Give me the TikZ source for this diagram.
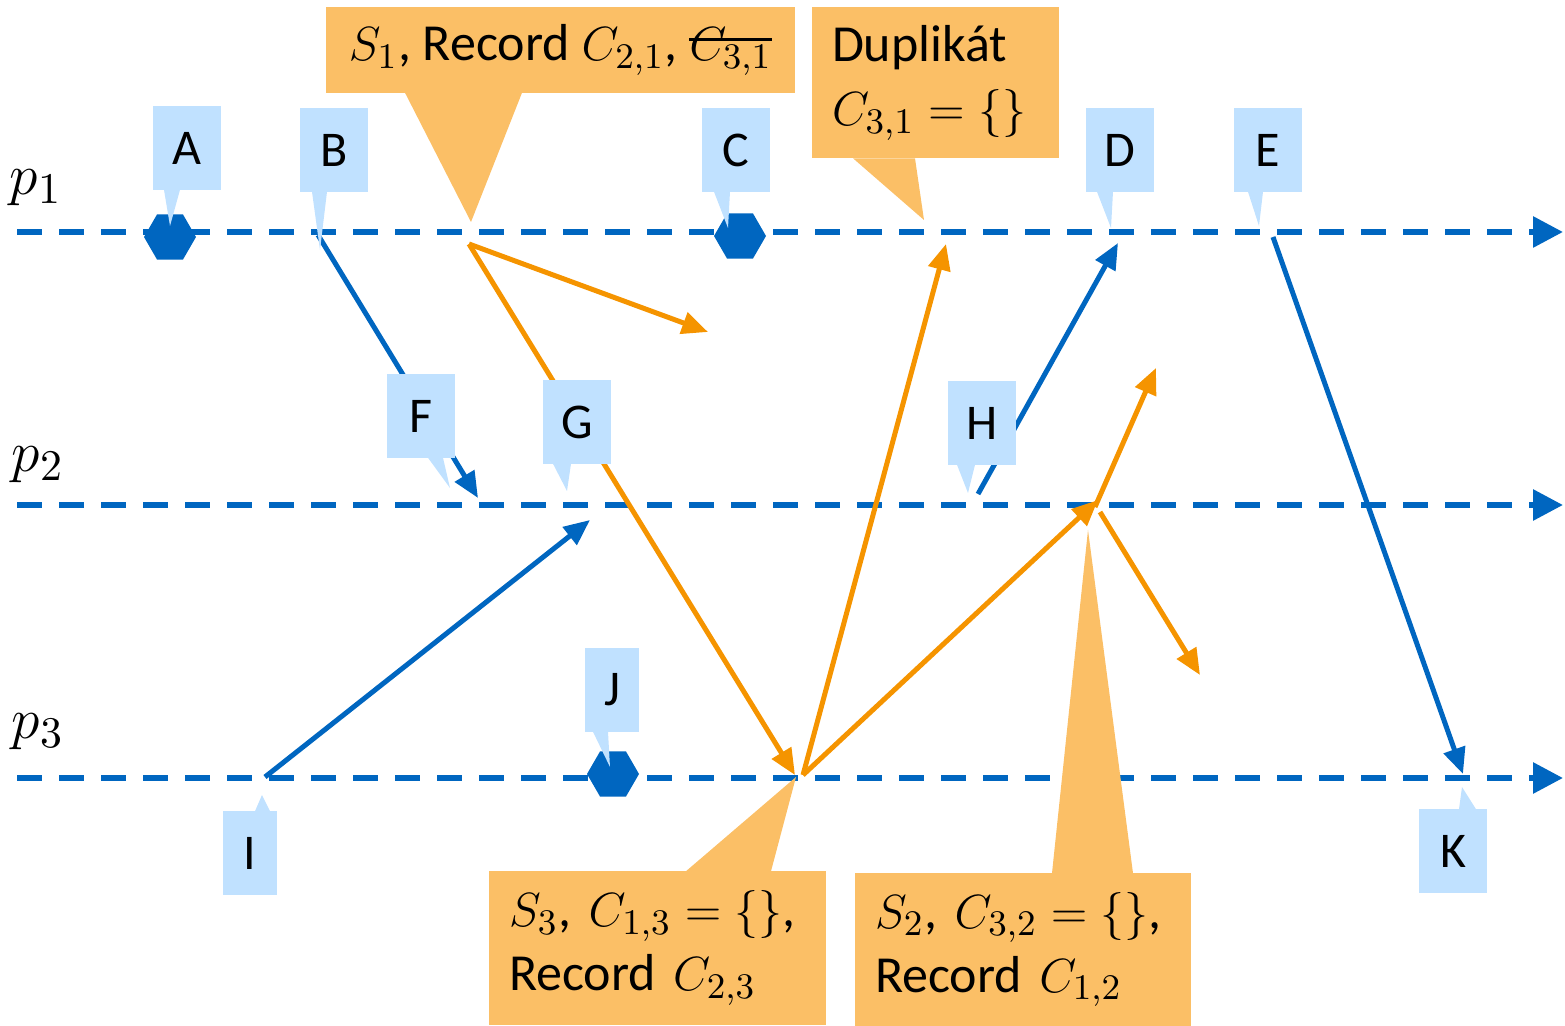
\documentclass[tikz,border=0pt]{standalone}
\usepackage{fontspec}
\setmainfont{Carlito}
\usetikzlibrary{arrows.meta,shapes.geometric,calc}
\definecolor{lineblue}{RGB}{0,102,192}
\definecolor{lblblue}{RGB}{192,225,255}
\definecolor{notefill}{RGB}{251,191,102}
\definecolor{lineorange}{RGB}{245,148,0}
\newcommand{\crossedout}[1]{\sbox0{#1}\rlap{\rule[0.8ex]{\wd0}{0.7pt}}\usebox0}

\begin{document}
\begin{tikzpicture}[
    x=0.25pt, y=-0.25pt,
    proc/.style={draw=lineblue, line width=1.5pt, dash pattern=on 6.25pt off 4.25pt, -{Triangle[length=7.5pt,width=7.5pt]}},
    msgblue/.style={draw=lineblue, line width=1.25pt, -{Triangle[length=6.5pt,width=5.5pt]}},
    msgorange/.style={draw=lineorange, line width=1.25pt, -{Triangle[length=6.5pt,width=5.5pt]}},
    event/.style={regular polygon, regular polygon sides=6, fill=lineblue, minimum size=13pt, inner sep=0pt},
    lbl/.style={fill=lblblue, minimum width=17pt, minimum height=21pt, inner sep=0pt, font=\fontsize{12.5}{15}\selectfont},
    note/.style={fill=notefill, inner xsep=5pt, inner ysep=0pt, align=left, font=\fontsize{13}{16}\selectfont},
    plabel/.style={font=\fontsize{15.5}{18}\selectfont}
]
\useasboundingbox (0,0) rectangle (1565,1026);

% Processes
\coordinate (p1start) at (17,232);  \coordinate (p1end) at (1563,232);
\coordinate (p2start) at (17,505);  \coordinate (p2end) at (1563,505);
\coordinate (p3start) at (17,778);  \coordinate (p3end) at (1563,778);
\node[plabel] (p1) at (36,188) {$p_1$};
\node[plabel] (p2) at (38,465) {$p_2$};
\node[plabel] (p3) at (38,732) {$p_3$};
\draw[proc] (p1start) -- (p1end);
\draw[proc] (p2start) -- (p2end);
\draw[proc] (p3start) -- (p3end);

% Message end points
\coordinate (bsend) at (318,235);   \coordinate (frecv) at (478,498);
\coordinate (isend) at (265,777);   \coordinate (grecv) at (590,520);
\coordinate (hsend) at (978,494);   \coordinate (drecv) at (1118,243);
\coordinate (esend) at (1273,237);  \coordinate (krecv) at (1463,774);
\coordinate (s1send) at (469,244);  \coordinate (s1lost) at (708,332);
\coordinate (s3recv) at (795,775);  \coordinate (s3send) at (803,775);
\coordinate (duprecv) at (946,244); \coordinate (s2recv) at (1098,500);
\coordinate (s2send) at (1095,507); \coordinate (s2up) at (1156,368);
\coordinate (s2out) at (1100,512);  \coordinate (s2down) at (1200,675);

% Application messages
\draw[msgblue] (bsend) -- (frecv);
\draw[msgblue] (isend) -- (grecv);
\draw[msgblue] (hsend) -- (drecv);
\draw[msgblue] (esend) -- (krecv);

% Markers
\draw[msgorange] (s1send) -- (s1lost);
\draw[msgorange] (s1send) -- (s3recv);
\draw[msgorange] (s3send) -- (duprecv);
\draw[msgorange] (s3send) -- (s2recv);
\draw[msgorange] (s2send) -- (s2up);
\draw[msgorange] (s2out) -- (s2down);

% Local events
\node[event] (ea) at (170,237) {};
\node[event] (ec) at (740,236) {};
\node[event] (ej) at (613,774) {};

% Event labels
\coordinate (tA) at (170,226);  \coordinate (tB) at (320,250);
\coordinate (tC) at (728,228);  \coordinate (tD) at (1111,228);
\coordinate (tE) at (1259,226); \coordinate (tF) at (450,488);
\coordinate (tG) at (567,491);  \coordinate (tH) at (968,493);
\coordinate (tI) at (262,795);  \coordinate (tJ) at (610,767);
\coordinate (tK) at (1462,787);
\node[lbl] (A) at (187,148) {A};
\node[lbl] (B) at (334,150) {B};
\node[lbl] (C) at (736,150) {C};
\node[lbl] (D) at (1120,150) {D};
\node[lbl] (E) at (1268,150) {E};
\node[lbl] (F) at (421,416) {F};
\node[lbl] (G) at (577,422) {G};
\node[lbl] (H) at (982,423) {H};
\node[lbl, minimum width=13.5pt] (I) at (250,853) {I};
\node[lbl, minimum width=13.5pt] (J) at (612,690) {J};
\node[lbl] (K) at (1453,851) {K};
\fill[lblblue] ($(A.south)+(-23,-1)$) -- (tA) -- ($(A.south)+(-7,-1)$) -- cycle;
\fill[lblblue] ($(B.south)+(-22,-1)$) -- (tB) -- ($(B.south)+(-7,-1)$) -- cycle;
\fill[lblblue] ($(C.south)+(-22,-1)$) -- (tC) -- ($(C.south)+(-6,-1)$) -- cycle;
\fill[lblblue] ($(D.south)+(-23,-1)$) -- (tD) -- ($(D.south)+(-7,-1)$) -- cycle;
\fill[lblblue] ($(E.south)+(-20,-1)$) -- (tE) -- ($(E.south)+(-5,-1)$) -- cycle;
\fill[lblblue] ($(F.south)+(7,-1)$) -- (tF) -- ($(F.south)+(22,-1)$) -- cycle;
\fill[lblblue] ($(G.south)+(-24,-1)$) -- (tG) -- ($(G.south)+(-6,-1)$) -- cycle;
\fill[lblblue] ($(H.south)+(-25,-1)$) -- (tH) -- ($(H.south)+(-7,-1)$) -- cycle;
\fill[lblblue] ($(I.north)+(5,1)$) -- (tI) -- ($(I.north)+(20,1)$) -- cycle;
\fill[lblblue] ($(J.south)+(-19,-1)$) -- (tJ) -- ($(J.south)+(-4,-1)$) -- cycle;
\fill[lblblue] ($(K.north)+(6,1)$) -- (tK) -- ($(K.north)+(23,1)$) -- cycle;

% Snapshot notes
\coordinate (ts1) at (471,222);
\coordinate (tdup) at (924,220);
\coordinate (ts3) at (796,777);
\coordinate (ts2) at (1088,530);
\node[note, align=center, minimum width=117.25pt, minimum height=21.5pt] (s1) at (560.5,50)
    {$S_1$, Record $C_{2,1}$, \crossedout{$C_{3,1}$}};
\node[note, text width=51.75pt, minimum height=37.75pt] (dup) at (935.5,83)
    {Duplikát\\$C_{3,1}=\{\}$};
\node[note, text width=74.25pt, minimum height=38.5pt] (s3) at (657.5,948)
    {$S_3$, $C_{1,3}=\{\}$,\\Record $C_{2,3}$};
\node[note, text width=74pt, minimum height=38.25pt] (s2) at (1023,949.5)
    {$S_2$, $C_{3,2}=\{\}$,\\Record $C_{1,2}$};
\fill[notefill] ($(s1.south)+(-155.5,-1)$) -- (ts1) -- ($(s1.south)+(-38.5,-1)$) -- cycle;
\fill[notefill] ($(dup.south)+(-82.5,-1)$) -- (tdup) -- ($(dup.south)+(-20.5,-1)$) -- cycle;
\fill[notefill] ($(s3.north)+(28.5,1)$) -- (ts3) -- ($(s3.north)+(113.5,1)$) -- cycle;
\fill[notefill] ($(s2.north)+(29,1)$) -- (ts2) -- ($(s2.north)+(110,1)$) -- cycle;

\end{tikzpicture}
\end{document}
